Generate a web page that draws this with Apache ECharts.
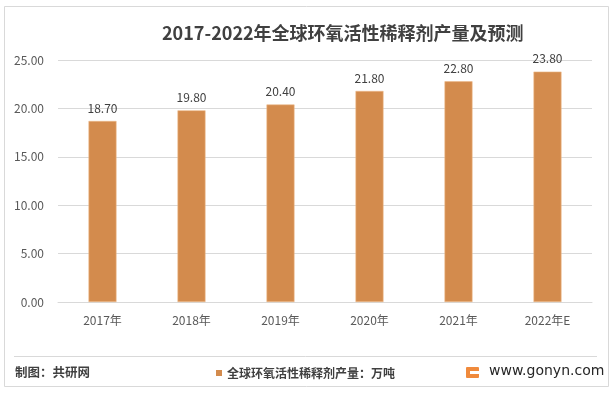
<!DOCTYPE html>
<html><head><meta charset="utf-8">
<script src="https://cdn.jsdelivr.net/npm/echarts@6/dist/echarts.min.js"></script>
<style>html,body{margin:0;padding:0;background:#fff}#c{width:613px;height:394px}</style>
</head><body><div id="c"></div>
<script>
const categories = ['2017年','2018年','2019年','2020年','2021年','2022年E'];
const values = [18.70, 19.80, 20.40, 21.80, 22.80, 23.80];
const titleText = '2017-2022年全球环氧活性稀释剂产量及预测';
const seriesName = '全球环氧活性稀释剂产量：万吨';
const sourceText = '制图：共研网';
const siteText = 'www.gonyn.com';
const yMin = 0, yMax = 25, yStep = 5;

const font = '"Microsoft YaHei","Noto Sans CJK SC",sans-serif';
const chart = echarts.init(document.getElementById('c'), null, {renderer:'canvas'});
chart.setOption({
  animation:false,
  backgroundColor:'#fff',
  title:{text:titleText,left:157,top:19,textStyle:{fontSize:18,fontWeight:'bold',color:'#404040',fontFamily:font}},
  legend:{show:true,data:[seriesName],left:211,top:362,itemWidth:6,itemHeight:6,itemGap:3,icon:'rect',
    itemStyle:{borderWidth:0,color:'#D38B4D'},
    textStyle:{fontSize:12,color:'#404040',fontFamily:font,fontWeight:'bold'}},
  grid:{left:58,right:21,top:60,bottom:92,containLabel:false},
  xAxis:{type:'category',data:categories,axisTick:{show:false},
    axisLine:{lineStyle:{color:'#d9d9d9'}},
    axisLabel:{color:'#595959',fontSize:12,margin:12,fontFamily:font}},
  yAxis:{type:'value',min:yMin,max:yMax,interval:yStep,
    axisLine:{show:false},axisTick:{show:false},
    splitLine:{lineStyle:{color:'#d9d9d9'}},
    axisLabel:{color:'#595959',fontSize:12,margin:14,fontFamily:font,formatter:v=>v.toFixed(2)}},
  series:[{name:seriesName,type:'bar',data:values,barWidth:28,
    itemStyle:{color:'#D38B4D',borderColor:'#EDB98A',borderWidth:0.6},
    label:{show:true,position:'top',distance:7,color:'#404040',fontSize:12,fontFamily:font,formatter:p=>p.value.toFixed(2)}}],
  graphic:[
    {type:'rect',shape:{x:4.5,y:6.5,width:604,height:380},style:{fill:'none',stroke:'#d9d9d9',lineWidth:1},silent:true,z:-1},
    {type:'line',shape:{x1:14,y1:356.5,x2:597,y2:356.5},style:{stroke:'#d9d9d9',lineWidth:1}},
    {type:'text',left:15,top:366,style:{text:sourceText,fill:'#404040',fontSize:12.5,fontFamily:font,fontWeight:'bold'}},
    {type:'rect',shape:{x:466,y:367,width:13,height:11,r:1},style:{fill:'#F08A3C'}},
    {type:'rect',shape:{x:470,y:371,width:9,height:3},style:{fill:'#fff'}},
    {type:'text',left:489,top:364,style:{text:siteText,fill:'#262626',fontSize:14,fontFamily:'"DejaVu Sans",sans-serif'}}
  ]
});
</script></body></html>
